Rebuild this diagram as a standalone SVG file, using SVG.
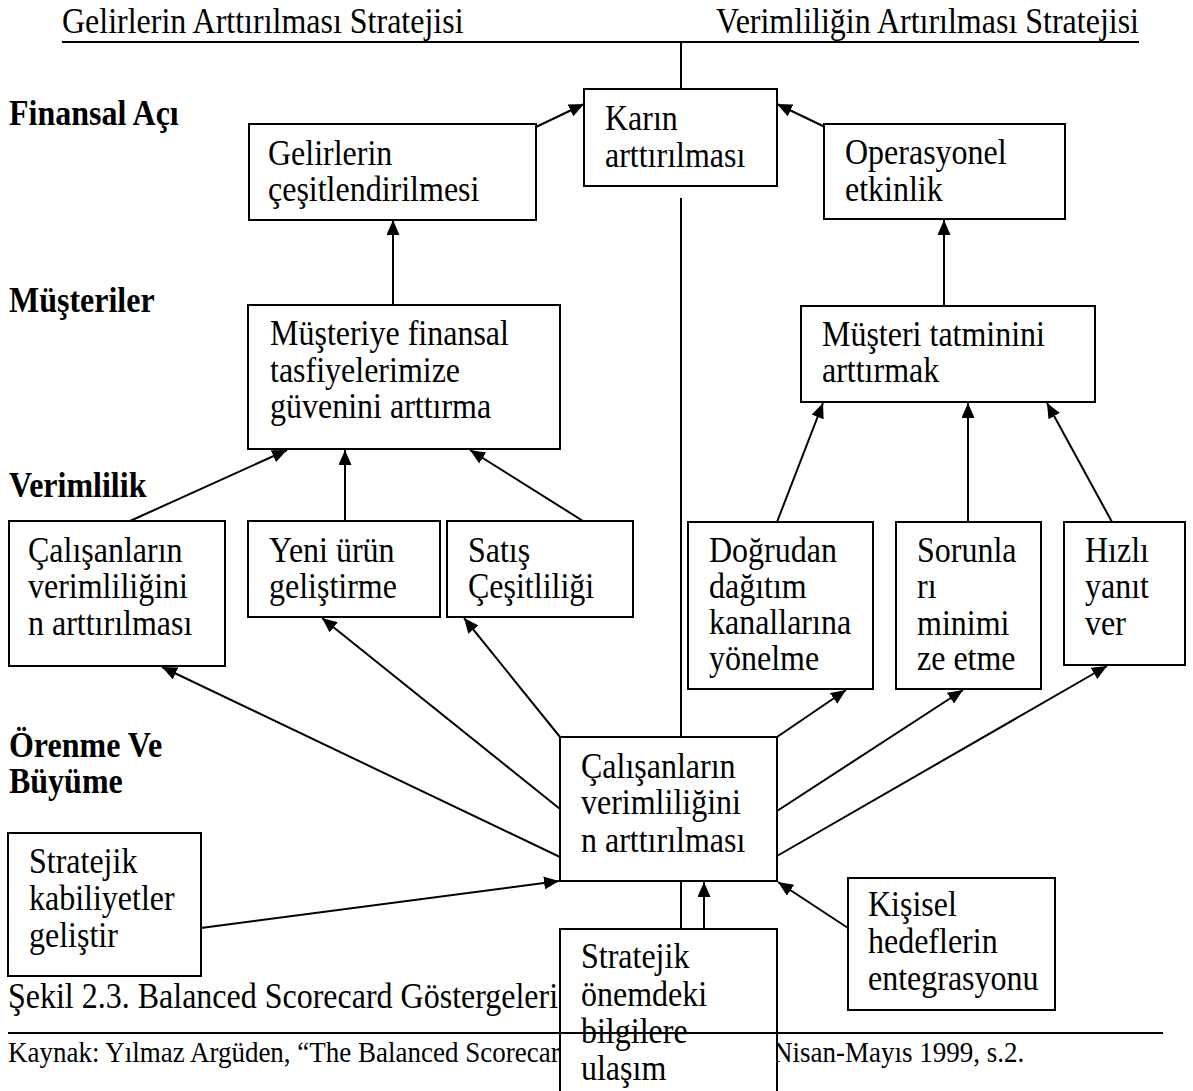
<svg xmlns="http://www.w3.org/2000/svg" width="1193" height="1091" viewBox="0 0 1193 1091">
<defs>
<marker id="ah" markerWidth="15" markerHeight="13" refX="15" refY="6.5" orient="auto" markerUnits="userSpaceOnUse"><path d="M0,0 L15,6.5 L0,13 z" fill="#000"/></marker>
</defs>
<style>
text{font-family:"Liberation Serif","Times New Roman",serif;font-size:32px;fill:#000;transform-box:fill-box;transform-origin:0 80.5%;transform:scaleY(1.1)}
.b{font-weight:bold}
.s{font-size:27px}
.box{fill:#fff;stroke:#000;stroke-width:2}
.ln{stroke:#000;stroke-width:2;fill:none}
.a{marker-end:url(#ah)}
</style>
<rect width="1193" height="1091" fill="#fff"/>
<g id="titles">
<text x="62" y="33">Gelirlerin Arttırılması Stratejisi</text>
<text x="1139" y="33" text-anchor="end">Verimliliğin Artırılması Stratejisi</text>
<line class="ln" x1="62" y1="42" x2="1139" y2="42"/>
</g>
<g id="rows">
<text class="b" x="9" y="125">Finansal Açı</text>
<text class="b" x="9" y="312">Müşteriler</text>
<text class="b" x="9" y="497">Verimlilik</text>
<text class="b" x="9" y="757">Örenme Ve</text>
<text class="b" x="9" y="793">Büyüme</text>
</g>
<g id="caption">
<text x="8" y="1008">Şekil 2.3. Balanced Scorecard Göstergeleri</text>
<text class="s" x="8" y="1062">Kaynak: Yılmaz Argüden, “The Balanced Scorecard</text>
<text class="s" x="773" y="1062">Nisan-Mayıs 1999, s.2.</text>
</g>
<g id="connectors">
<path class="ln" d="M681,42 L681,89"/>
<path class="ln" d="M681,198 L681,737"/>
<path class="ln" d="M681,881 L681,929"/>
<path class="ln a" d="M536,127 L584,104"/>
<path class="ln a" d="M825,127 L777,104"/>
<path class="ln a" d="M393,305 L393,220"/>
<path class="ln a" d="M944,306 L944,220"/>
<path class="ln a" d="M130,521 L287,450"/>
<path class="ln a" d="M345,521 L345,450"/>
<path class="ln a" d="M583,521 L470,450"/>
<path class="ln a" d="M777,522 L823,403"/>
<path class="ln a" d="M968,522 L968,403"/>
<path class="ln a" d="M1112,522 L1047,403"/>
<path class="ln a" d="M560,737 L464,618"/>
<path class="ln a" d="M560,809 L322,618"/>
<path class="ln a" d="M560,857 L162,667"/>
<path class="ln a" d="M777,737 L846,690"/>
<path class="ln a" d="M777,811 L963,690"/>
<path class="ln a" d="M777,856 L1107,666"/>
<path class="ln a" d="M201,928 L559,881"/>
<path class="ln a" d="M848,928 L778,882"/>
<path class="ln a" d="M704,929 L704,882"/>
</g>
<g id="n-gelir"><rect class="box" x="249" y="124" width="287" height="96"/><text x="268" y="165">Gelirlerin</text><text x="268" y="201">çeşitlendirilmesi</text></g>
<g id="n-karin"><rect class="box" x="584" y="89" width="193" height="97"/><text x="605" y="130">Karın</text><text x="605" y="167">arttırılması</text></g>
<g id="n-operasyonel"><rect class="box" x="824" y="124" width="241" height="95"/><text x="845" y="164">Operasyonel</text><text x="845" y="201">etkinlik</text></g>
<g id="n-musteriye"><rect class="box" x="248" y="305" width="312" height="144"/><text x="270" y="345">Müşteriye finansal</text><text x="270" y="382">tasfiyelerimize</text><text x="270" y="418">güvenini arttırma</text></g>
<g id="n-tatmin"><rect class="box" x="801" y="306" width="294" height="96"/><text x="822" y="346">Müşteri tatminini</text><text x="822" y="382">arttırmak</text></g>
<g id="n-calisan1"><rect class="box" x="9" y="521" width="216" height="145"/><text x="28" y="562">Çalışanların</text><text x="28" y="598">verimliliğini</text><text x="28" y="635">n arttırılması</text></g>
<g id="n-yeni"><rect class="box" x="248" y="521" width="192" height="96"/><text x="269" y="562">Yeni ürün</text><text x="269" y="598">geliştirme</text></g>
<g id="n-satis"><rect class="box" x="447" y="521" width="186" height="96"/><text x="468" y="562">Satış</text><text x="468" y="598">Çeşitliliği</text></g>
<g id="n-dogrudan"><rect class="box" x="688" y="522" width="185" height="167"/><text x="709" y="562">Doğrudan</text><text x="709" y="598">dağıtım</text><text x="709" y="634">kanallarına</text><text x="709" y="670">yönelme</text></g>
<g id="n-sorun"><rect class="box" x="896" y="522" width="145" height="167"/><text x="917" y="562">Sorunla</text><text x="917" y="598">rı</text><text x="917" y="635">minimi</text><text x="917" y="670">ze etme</text></g>
<g id="n-hizli"><rect class="box" x="1064" y="522" width="121" height="143"/><text x="1085" y="562">Hızlı</text><text x="1085" y="598">yanıt</text><text x="1085" y="635">ver</text></g>
<g id="n-calisan2"><rect class="box" x="560" y="737" width="217" height="144"/><text x="581" y="778">Çalışanların</text><text x="581" y="814">verimliliğini</text><text x="581" y="852">n arttırılması</text></g>
<g id="n-kabiliyet"><rect class="box" x="8" y="833" width="193" height="143"/><text x="29" y="873">Stratejik</text><text x="29" y="910">kabiliyetler</text><text x="29" y="947">geliştir</text></g>
<g id="n-kisisel"><rect class="box" x="848" y="878" width="207" height="132"/><text x="868" y="916">Kişisel</text><text x="868" y="953">hedeflerin</text><text x="868" y="990">entegrasyonu</text></g>
<g id="n-bilgi"><rect class="box" x="560" y="929" width="217" height="180"/><text x="581" y="968">Stratejik</text><text x="581" y="1006">önemdeki</text><text x="581" y="1043">bilgilere</text><text x="581" y="1080">ulaşım</text></g>
<g id="rule"><line class="ln" x1="8" y1="1033" x2="1163" y2="1033"/></g>
</svg>
